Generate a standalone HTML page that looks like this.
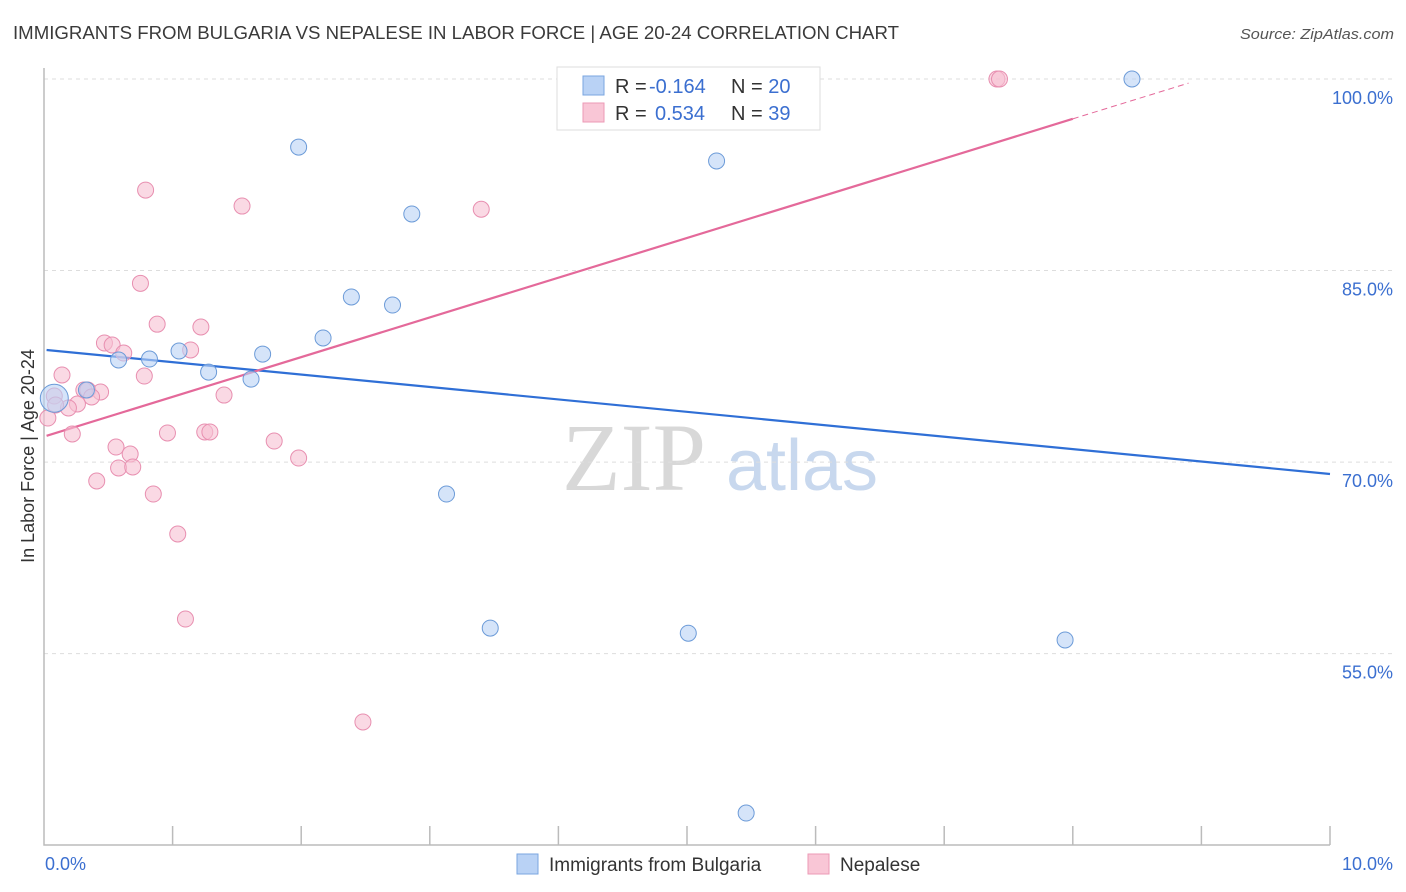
<!DOCTYPE html>
<html><head><meta charset="utf-8"><style>
body{margin:0;background:#fff;font-family:"Liberation Sans",sans-serif;}
svg{display:block}
</style></head><body>
<svg id="chart" width="1406" height="892" xmlns="http://www.w3.org/2000/svg">
<text x="13" y="39" font-size="18" fill="#3a3a3a" textLength="886" lengthAdjust="spacingAndGlyphs">IMMIGRANTS FROM BULGARIA VS NEPALESE IN LABOR FORCE | AGE 20-24 CORRELATION CHART</text>
<text x="1240" y="39" font-size="15" fill="#555" font-style="italic" textLength="154" lengthAdjust="spacingAndGlyphs">Source: ZipAtlas.com</text>
<g>
<text x="634" y="490" font-size="96" fill="#d8d8d8" text-anchor="middle" font-family="Liberation Serif,serif">ZIP</text>
<text x="802" y="490" font-size="72" fill="#c8d8ee" text-anchor="middle">atlas</text>
</g>
<g id="grid"></g>
<g id="axes"></g>
<g id="lines"></g>
<g id="points"></g>
<text transform="translate(34,456) rotate(-90)" font-size="18" fill="#333" text-anchor="middle">In Labor Force | Age 20-24</text>
<g>
<rect x="557" y="67" width="263" height="63" fill="#fff" stroke="#ddd"/>
<rect x="583" y="76" width="21" height="19" fill="#b9d2f5" stroke="#7aa6e0"/>
<rect x="583" y="103" width="21" height="19" fill="#f9c6d6" stroke="#ec9ab6"/>
<text x="615" y="93" font-size="20" fill="#333">R = <tspan fill="#3b6fd0" x="649">-0.164</tspan><tspan x="731">N = </tspan><tspan fill="#3b6fd0">20</tspan></text>
<text x="615" y="120" font-size="20" fill="#333">R = <tspan fill="#3b6fd0" x="655">0.534</tspan><tspan x="731">N = </tspan><tspan fill="#3b6fd0">39</tspan></text>
</g>
<g>
<rect x="517" y="854" width="21" height="20" fill="#b9d2f5" stroke="#7aa6e0"/>
<text x="549" y="871" font-size="19" fill="#333">Immigrants from Bulgaria</text>
<rect x="808" y="854" width="21" height="20" fill="#f9c6d6" stroke="#ec9ab6"/>
<text x="840" y="871" font-size="19" fill="#333">Nepalese</text>
</g>
</svg>
<script>
const yTicks=[100,85,70,55];
const yTickLabels=["100.0%","85.0%","70.0%","55.0%"];
const xTickLabels=["0.0%","10.0%"];
const blueX=[0.08,0.33,0.58,0.82,1.05,1.28,1.61,1.70,1.98,2.17,2.39,2.71,2.86,3.13,3.47,5.01,5.23,5.46,7.94,8.46];
const blueY=[75.0,75.65,78.0,78.07,78.7,77.05,76.5,78.46,94.67,79.72,82.93,82.3,89.43,67.5,57.0,56.6,93.58,42.52,56.07,100.0];
const pinkX=[7.41,7.43,0.79,1.54,3.40,0.75,0.88,1.22,0.47,0.53,0.62,1.14,0.14,0.78,0.31,0.34,0.44,0.37,0.08,0.26,0.19,0.03,0.09,1.40,0.22,0.96,1.25,1.29,0.56,0.67,1.79,1.98,0.58,0.69,0.41,0.85,1.04,1.10,2.48];
const pinkY=[100,100,91.3,90.05,89.8,84.0,80.8,80.58,79.33,79.17,78.54,78.78,76.82,76.74,75.65,75.65,75.49,75.1,75.18,74.55,74.24,73.45,74.47,75.25,72.2,72.28,72.36,72.36,71.18,70.63,71.65,70.32,69.54,69.62,68.52,67.5,64.37,57.71,49.65];
const blueTrend=[78.8,69.07];
const pinkTrend=[72.0,103.1];
const X=v=>44+v*128.6, Y=v=>79+(100-v)*12.77;
const NS="http://www.w3.org/2000/svg";
function mk(tag,attrs,parent){const e=document.createElementNS(NS,tag);for(const k in attrs)e.setAttribute(k,attrs[k]);document.getElementById(parent).appendChild(e);return e;}
yTicks.forEach((t,i)=>{
 const l=mk('line',{x1:44,x2:1393,y1:Y(t),y2:Y(t),stroke:'#ddd','stroke-dasharray':'4,4'},'grid');
 
 
 const tx=mk('text',{x:1393,y:Y(t)+25,'font-size':18,fill:'#3b6fd0','text-anchor':'end'},'grid');
 tx.textContent=yTickLabels[i];
 
 
});
const ax=mk('path',{d:'M44 68V845H1330',fill:'none',stroke:'#bbb','stroke-width':1.5},'axes');


for(let i=1;i<=10;i++){const t=mk('line',{x1:X(i),x2:X(i),y1:826,y2:845,stroke:'#bbb','stroke-width':1.5},'axes');
 
 }
[[0,'start',45],[10,'end',1393]].forEach((d,i)=>{const t=mk('text',{x:d[2],y:870,'font-size':18,fill:'#3b6fd0','text-anchor':d[1]},'axes');t.textContent=xTickLabels[i];
 
 });
const bl=mk('line',{x1:X(0.02),y1:Y(blueTrend[0]+(blueTrend[1]-blueTrend[0])*0.002),x2:X(10),y2:Y(blueTrend[1]),stroke:'#2f6fd6','stroke-width':2.2},'lines');


const pf=v=>pinkTrend[0]+(pinkTrend[1]-pinkTrend[0])*v/10;
const pl=mk('line',{x1:X(0.02),y1:Y(pf(0.02)),x2:X(8.0),y2:Y(pf(8.0)),stroke:'#e4699a','stroke-width':2.2},'lines');


const pd=mk('line',{x1:X(8.0),y1:Y(pf(8.0)),x2:X(8.9),y2:Y(pf(8.9)),stroke:'#e4699a','stroke-width':1,'stroke-dasharray':'6,4'},'lines');


pinkX.forEach((x,i)=>{const c=mk('circle',{cx:X(x),cy:Y(pinkY[i]),r:8,fill:'#f7bfd2','fill-opacity':0.6,stroke:'#e88fb0','stroke-width':1},'points');
 
 });
blueX.forEach((x,i)=>{const c=mk('circle',{cx:X(x),cy:Y(blueY[i]),r:i===0?14:8,fill:'#b9d2f5','fill-opacity':0.6,stroke:'#6c9bd8','stroke-width':1},'points');
 
 });
</script>
</body></html>
